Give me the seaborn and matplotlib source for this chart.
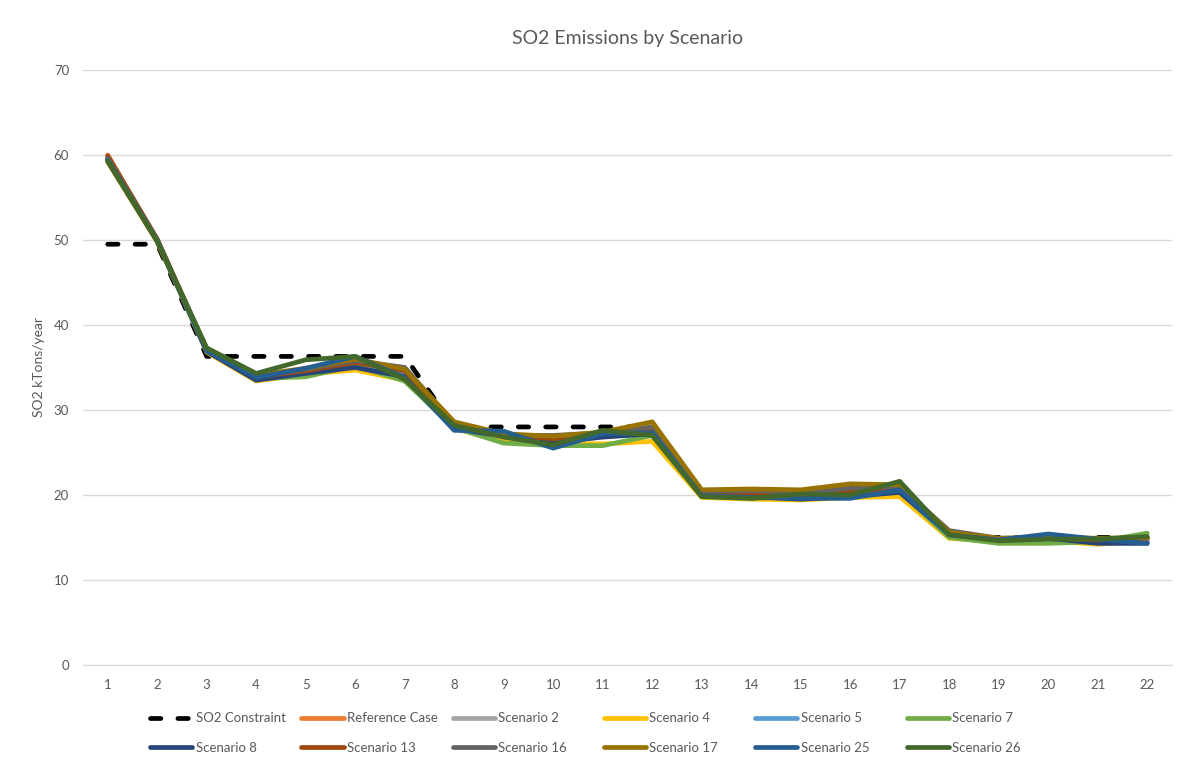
import pandas as pd
import matplotlib
matplotlib.use("Agg")
import matplotlib.pyplot as plt
import seaborn as sns

# Donnees
years = list(range(1, 23))
so2_constraint = [49.5, 49.5, 36.3, 36.3, 36.3, 36.3, 36.3, 28.0, 28.0, 28.0, 28.0, 28.0,
                  20.3, 20.3, 20.3, 20.3, 20.3, 15.0, 15.0, 15.0, 15.0, 15.0]
reference_case = [60.0, 50.0, 37.0, 33.8, 34.5, 35.5, 34.2, 28.2, 27.0, 26.5, 26.9, 27.5,
                  20.1, 20.0, 19.8, 20.3, 20.5, 15.3, 14.7, 14.8, 14.4, 14.8]
scenario_2 = [59.7, 50.0, 37.0, 33.9, 34.7, 35.6, 34.3, 28.1, 27.0, 26.6, 27.0, 27.6,
              20.2, 20.1, 20.0, 20.4, 20.6, 15.4, 14.7, 14.9, 14.6, 14.8]
scenario_4 = [59.3, 49.8, 36.8, 33.4, 34.2, 34.7, 33.5, 27.8, 26.5, 26.1, 26.0, 26.3,
              19.7, 19.5, 19.4, 19.7, 19.8, 14.9, 14.5, 14.6, 14.2, 14.6]
scenario_5 = [59.6, 50.0, 37.0, 33.7, 34.6, 35.8, 34.0, 27.9, 27.2, 26.0, 26.9, 27.2,
              20.0, 19.8, 19.7, 19.9, 20.4, 15.2, 14.7, 15.0, 14.6, 14.5]
scenario_7 = [59.4, 49.9, 36.9, 33.7, 33.9, 35.2, 33.4, 27.9, 26.1, 25.8, 25.8, 27.0,
              19.8, 19.6, 19.8, 19.9, 20.4, 15.0, 14.3, 14.3, 14.5, 15.5]
scenario_8 = [59.5, 49.9, 36.9, 33.5, 34.3, 35.0, 33.9, 27.8, 26.9, 26.2, 26.8, 27.2,
              19.9, 19.8, 19.5, 19.8, 20.3, 15.4, 14.7, 14.9, 14.3, 14.3]
scenario_13 = [59.9, 50.1, 37.1, 33.9, 34.6, 35.6, 34.6, 28.3, 27.1, 26.6, 27.2, 27.8,
               20.3, 20.2, 20.0, 20.5, 20.7, 15.6, 14.8, 14.9, 14.7, 14.9]
scenario_16 = [59.6, 50.0, 37.1, 34.0, 34.8, 35.8, 35.0, 28.4, 27.0, 27.0, 27.3, 28.0,
               20.4, 20.5, 20.3, 20.8, 21.0, 15.8, 14.9, 15.0, 14.8, 15.0]
scenario_17 = [59.2, 49.8, 37.2, 34.1, 34.9, 36.0, 34.8, 28.6, 27.2, 26.9, 27.4, 28.6,
               20.6, 20.7, 20.6, 21.3, 21.2, 15.6, 14.9, 15.0, 14.9, 15.0]
scenario_25 = [59.4, 49.9, 37.0, 33.8, 34.9, 36.3, 33.8, 27.6, 27.5, 25.5, 27.2, 27.3,
               19.9, 19.7, 19.6, 19.6, 20.6, 15.3, 14.7, 15.4, 14.8, 14.3]
scenario_26 = [59.3, 49.9, 37.3, 34.3, 35.9, 36.3, 33.6, 28.2, 26.8, 25.9, 27.6, 27.0,
               19.8, 19.6, 20.1, 20.0, 21.6, 15.3, 14.6, 14.8, 14.8, 15.1]

series = {
    "Reference Case": (reference_case, "#ED7D31"),
    "Scenario 2": (scenario_2, "#A5A5A5"),
    "Scenario 4": (scenario_4, "#FFC000"),
    "Scenario 5": (scenario_5, "#5B9BD5"),
    "Scenario 7": (scenario_7, "#70AD47"),
    "Scenario 8": (scenario_8, "#264478"),
    "Scenario 13": (scenario_13, "#9E480E"),
    "Scenario 16": (scenario_16, "#636363"),
    "Scenario 17": (scenario_17, "#997300"),
    "Scenario 25": (scenario_25, "#255E91"),
    "Scenario 26": (scenario_26, "#43682B"),
}

sns.set_style("white")
plt.rcParams["font.family"] = ["Lato", "DejaVu Sans"]

fig, ax = plt.subplots(figsize=(11.85, 7.66), dpi=100)
fig.subplots_adjust(left=0.070, right=0.989, top=0.9086, bottom=0.132)

LW = 3.4
sns.lineplot(x=years, y=so2_constraint, ax=ax, color="black", lw=LW,
             label="SO2 Constraint")
ax.lines[-1].set_dashes([2.2, 3.6])
ax.lines[-1].set_dash_capstyle("round")

for name, (vals, col) in series.items():
    sns.lineplot(x=years, y=vals, ax=ax, color=col, lw=LW, label=name)

ax.set_xlim(0.5, 22.5)
ax.set_ylim(0, 70)
ax.set_xticks(years)
ax.set_yticks(range(0, 71, 10))
ax.yaxis.grid(True, color="#D9D9D9", lw=1)
ax.xaxis.grid(False)
for s in ["top", "right", "left"]:
    ax.spines[s].set_visible(False)
ax.spines["bottom"].set_color("#D9D9D9")
ax.tick_params(axis="both", length=0, colors="#595959", labelsize=9.5, pad=10)
ax.set_ylabel("SO2 kTons/year", color="#595959", fontsize=10, labelpad=6)
ax.set_xlabel("")
ax.set_title("SO2 Emissions by Scenario", color="#595959", fontsize=14, pad=19)

# legende : colonnes de largeur egale comme Excel (une legende par colonne)
handles, labels = ax.get_legend_handles_labels()
ax.get_legend().remove()
for i in range(6):
    x0 = (150 + 151.3 * i) / 1185
    fig.legend([handles[i], handles[i + 6]], [labels[i], labels[i + 6]],
               loc="center left", bbox_to_anchor=(x0, 0.043), ncol=1,
               frameon=False, fontsize=9.5, handlelength=3.2, handletextpad=0.25,
               labelspacing=1.35, borderpad=0, borderaxespad=0,
               labelcolor="#595959")

plt.savefig("out.png", dpi=100)
